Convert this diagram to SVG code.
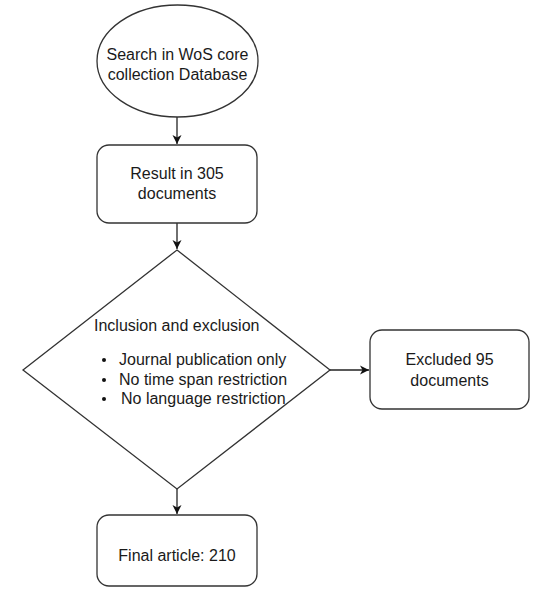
<svg xmlns="http://www.w3.org/2000/svg" width="542" height="608" viewBox="0 0 542 608">
<style>
.s{fill:#fff;stroke:#333;stroke-width:1.3}
.t{font-family:"Liberation Sans",Arial,sans-serif;font-size:16px;fill:#1a1a1a}
.c{text-anchor:middle}
.e{stroke:#222;stroke-width:1.3;fill:none}
</style>
<defs>
<marker id="a" markerWidth="12" markerHeight="12" refX="10" refY="6" orient="auto" markerUnits="userSpaceOnUse">
<path d="M1,1.5 L10,6 L1,10.5 L3.5,6 Z" fill="#111"/>
</marker>
</defs>
<rect width="542" height="608" fill="#fff"/>
<g id="connectors">
<line class="e" x1="177" y1="117" x2="177" y2="144" marker-end="url(#a)"/>
<line class="e" x1="177" y1="223" x2="177" y2="249" marker-end="url(#a)"/>
<line class="e" x1="330" y1="370" x2="369" y2="370" marker-end="url(#a)"/>
<line class="e" x1="177" y1="489" x2="177" y2="514" marker-end="url(#a)"/>
</g>
<g id="start">
<ellipse class="s" cx="177.5" cy="61" rx="80.5" ry="56"/>
<text class="t c" x="177.5" y="60">Search in WoS core</text>
<text class="t c" x="177.5" y="80">collection Database</text>
</g>
<g id="result">
<rect class="s" x="97" y="145" width="160" height="78" rx="12"/>
<text class="t c" x="177" y="179">Result in 305</text>
<text class="t c" x="177" y="199">documents</text>
</g>
<g id="decision">
<polygon class="s" points="177,250 330,370 177,489 23,370"/>
<text class="t" x="94" y="331">Inclusion and exclusion</text>
<circle cx="104" cy="360" r="2" fill="#111"/>
<circle cx="104" cy="380" r="2" fill="#111"/>
<circle cx="104" cy="399" r="2" fill="#111"/>
<text class="t" x="119" y="365">Journal publication only</text>
<text class="t" x="119" y="385">No time span restriction</text>
<text class="t" x="121" y="404">No language restriction</text>
</g>
<g id="excluded">
<rect class="s" x="370" y="330" width="159" height="79" rx="12"/>
<text class="t c" x="449.5" y="365">Excluded 95</text>
<text class="t c" x="449.5" y="386">documents</text>
</g>
<g id="final">
<rect class="s" x="97" y="515" width="160" height="71" rx="12"/>
<text class="t c" x="177" y="561">Final article: 210</text>
</g>
</svg>
